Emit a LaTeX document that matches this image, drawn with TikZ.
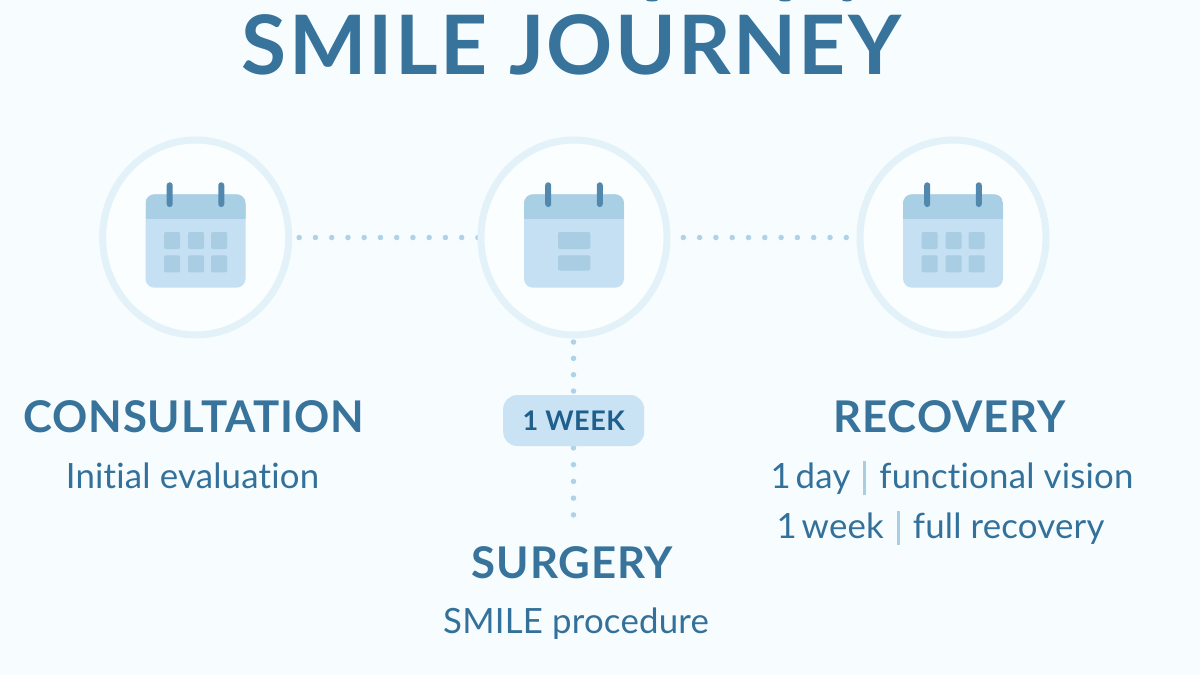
\documentclass[tikz,border=0pt]{standalone}
\usepackage{fontspec}
\setmainfont{Lato}
\newfontfamily\titlef[LetterSpace=2.7]{Lato Bold}
\newfontfamily\headf[LetterSpace=2]{Lato Bold}
\newfontfamily\subf[LetterSpace=0.6,Ligatures=NoCommon]{Lato}
\usetikzlibrary{shapes.geometric,backgrounds}
\definecolor{bgc}{HTML}{F7FCFF}
\definecolor{ringc}{HTML}{E3F1F8}
\definecolor{discc}{HTML}{FBFEFF}
\definecolor{headc}{HTML}{A9CFE4}
\definecolor{bodyc}{HTML}{C5E0F2}
\definecolor{cellc}{HTML}{A9CDE2}
\definecolor{clipc}{HTML}{5288AD}
\definecolor{titlec}{HTML}{37739B}
\definecolor{textc}{HTML}{33719B}
\definecolor{pillc}{HTML}{C9E3F5}
\definecolor{pilltext}{HTML}{1F5F8B}
\definecolor{dotc}{HTML}{AED2E8}
\definecolor{sepc}{HTML}{A9CDE2}
\newcommand{\sepbar}{\hspace{13pt}\textcolor{sepc}{\rule[-6.5pt]{3pt}{34pt}}\hspace{13pt}}
\tikzset{
  disc/.style={ellipse,draw=ringc,line width=7pt,fill=discc,minimum width=186pt,minimum height=195pt,inner sep=0pt,outer sep=3.5pt},
  dotline/.style={draw=dotc,line width=5.5pt,line cap=round,dash pattern=on 0pt off #1},
  dotline/.default=16.35pt,
  calbody/.style={fill=bodyc,rounded corners=9pt},
  calhead/.style={fill=headc},
  cell/.style={fill=cellc,rounded corners=2pt},
  clipbar/.style={fill=clipc,rounded corners=2.9pt},
  pillbox/.style={fill=pillc,rounded corners=14pt,minimum width=141pt,minimum height=51pt,inner sep=0pt,text=pilltext,font=\fontsize{27}{27}\headf},
  title/.style={anchor=base,text=titlec,inner sep=0pt,font=\fontsize{82}{82}\titlef},
  head/.style={anchor=base,text=titlec,inner sep=0pt,font=\fontsize{43.7}{44}\headf},
  sub/.style={anchor=base,text=textc,inner sep=0pt,font=\fontsize{34.8}{35}\subf},
}
\newcommand{\calframe}[1]{%
  \fill[calbody] (#1-50,194.3) rectangle (#1+50,287.7);
  \begin{scope}
    \clip[rounded corners=9pt] (#1-50,194.3) rectangle (#1+50,287.7);
    \fill[calhead] (#1-50,194.3) rectangle (#1+50,218.7);
  \end{scope}
  \fill[clipbar] (#1-28.8,182.3) rectangle (#1-22.8,207);
  \fill[clipbar] (#1+22.8,182.3) rectangle (#1+28.8,207);
}
\newcommand{\calcells}[1]{%
  \foreach \dx in {-31.5,-7.5,15.5}{
    \fill[cell] (#1+\dx,232) rectangle ++(16.2,17);
    \fill[cell] (#1+\dx,255.3) rectangle ++(16.2,17);
  }
}
\begin{document}
\begin{tikzpicture}[x=1pt,y=-1pt]
\useasboundingbox (0,0) rectangle (1200,675);
\node[title] (ttl) at (571.5,74.3) {SMILE JOURNEY};
\fill[titlec] (652,0) ellipse (6 and 1.5);
\fill[titlec] (785,0) ellipse (6 and 1.5);
\fill[titlec] (847,0) ellipse (5 and 1.5);
\node[disc] (c1) at (195.7,237.5) {};
\node[disc] (c2) at (574,237.5) {};
\node[disc] (c3) at (953,237.5) {};
\node[pillbox] (pill) at (573.7,420.5) {1 WEEK};
\coordinate (v2) at (573.5,516);
\coordinate (v1) at (573.5,338.5);
\begin{scope}[on background layer]
\fill[bgc] (0,0) rectangle (1200,675);
\draw[dotline=16.25pt,shorten <=7pt,shorten >=-4pt] (c1) -- (c2);
\draw[dotline=16.3pt,shorten <=-3.5pt] (c2) -- (c3);
\draw[dotline,shorten <=3.5pt] (v1) -- (v1 |- pill.north);
\draw[dotline=16.75pt,shorten <=1.7pt] (v2 |- pill.south) -- (v2);
\end{scope}
\calframe{195.5}\calcells{195.5}
\calframe{574}
\fill[cell] (558,232) rectangle (590.3,249);
\fill[cell] (558,255.3) rectangle (590.3,270.5);
\calframe{953}\calcells{953}
\node[head] (h1) at (193.5,432) {CONSULTATION};
\node[sub] (s1) at (192.5,488) {Initial evaluation};
\node[head] (h2) at (572.5,578) {SURGERY};
\node[sub] (s2) at (576,633) {SMILE procedure};
\node[head] (h3) at (949.5,432) {RECOVERY};
\node[sub] (s3) at (952,488) {1\hspace{5pt}day\sepbar functional vision};
\node[sub] (s4) at (940.5,538) {1\hspace{5pt}week\sepbar full recovery};
\end{tikzpicture}
\end{document}
